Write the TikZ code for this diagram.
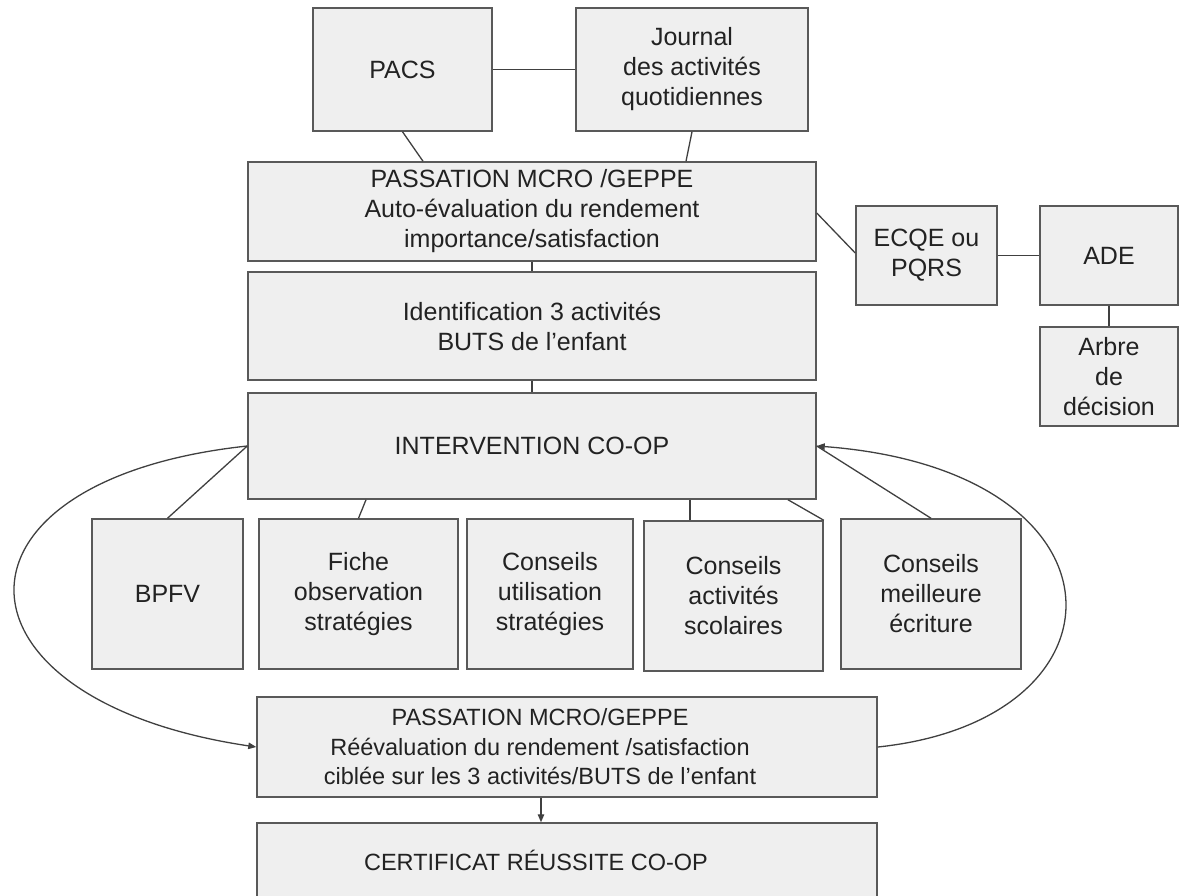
\documentclass[tikz,border=0pt]{standalone}
\usepackage{fontspec}
\setmainfont{Liberation Sans}
\usetikzlibrary{arrows.meta}
\definecolor{boxfill}{HTML}{EFEFEF}
\definecolor{boxline}{HTML}{595959}
\definecolor{txt}{HTML}{222222}
\definecolor{conn}{HTML}{404040}
\tikzset{
  box/.style={draw=boxline, line width=1.5pt, fill=boxfill, inner sep=0pt, align=center, text=txt,
    font=\fontsize{25}{30}\selectfont},
  lowbox/.style={draw=boxline, line width=1.5pt, fill=boxfill, inner sep=0pt},
  lowtext/.style={inner sep=0pt, align=center, text=txt, font=\fontsize{23.5}{29.5}\selectfont},
  link/.style={draw=conn, line width=1.3pt},
  arr/.style={link, -{Triangle[length=8pt,width=6.5pt]}}
}
\begin{document}
\begin{tikzpicture}[x=1pt,y=-1pt]
\useasboundingbox (0,0) rectangle (1180,895);
\node[box, minimum width=179pt, minimum height=123pt] (pacs) at (402.5,69.5) {PACS};
\node[box, minimum width=232pt, minimum height=123pt] (journal) at (692,69.5) {Journal\\des activités\\quotidiennes};
\node[box, minimum width=568pt, minimum height=99pt] (p1) at (532,211.5) {PASSATION MCRO /GEPPE\\Auto-évaluation du rendement\\importance/satisfaction};
\node[box, minimum width=568pt, minimum height=108pt] (ident) at (532,326) {Identification 3 activités\\BUTS de l’enfant};
\node[box, minimum width=568pt, minimum height=106pt] (interv) at (532,446) {INTERVENTION CO-OP};
\node[box, minimum width=141pt, minimum height=99pt] (ecqe) at (926.5,255.5) {ECQE ou\\PQRS};
\node[box, minimum width=138pt, minimum height=99pt] (ade) at (1109,255.5) {ADE};
\node[box, minimum width=138pt, minimum height=99pt] (arbre) at (1109,376.5) {Arbre\\de\\décision};
\node[box, minimum width=151pt, minimum height=150pt] (bpfv) at (167.5,594) {BPFV};
\node[box, minimum width=199pt, minimum height=150pt] (fiche) at (358.5,594) {Fiche\\observation\\stratégies};
\node[box, minimum width=166pt, minimum height=150pt] (cu) at (550,594) {Conseils\\utilisation\\stratégies};
\node[box, minimum width=179pt, minimum height=150pt] (ca) at (733.5,596) {Conseils\\activités\\scolaires};
\node[box, minimum width=180pt, minimum height=150pt] (cm) at (931,594) {Conseils\\meilleure\\écriture};
\node[lowbox, minimum width=620pt, minimum height=100pt] (p2) at (567,747) {};
\node[lowtext] (p2text) at ([xshift=-27pt]p2.center) {PASSATION MCRO/GEPPE\\Réévaluation du rendement /satisfaction\\ciblée sur les 3 activités/BUTS de l’enfant};
\node[lowbox, minimum width=620pt, minimum height=74pt] (cert) at (567,860) {};
\node[lowtext] (certtext) at ([xshift=-31pt]cert.center) {CERTIFICAT RÉUSSITE CO-OP};
% connectors
\draw[link] (pacs.east) -- (journal.west);
\draw[link] (pacs.south) -- ([xshift=-109pt]p1.north);
\draw[link] (journal.south) -- ([xshift=154pt]p1.north);
\draw[link] (p1.south) -- (ident.north);
\draw[link] (ident.south) -- (interv.north);
\draw[link] ([yshift=-1.5pt]p1.east) -- ([yshift=2.5pt]ecqe.west);
\draw[link] (ecqe.east) -- (ade.west);
\draw[link] (ade.south) -- (arbre.north);
\draw[link] (interv.west) -- (bpfv.north);
\draw[link] ([xshift=-166pt]interv.south) -- (fiche.north);
\draw[link] ([xshift=158pt]interv.south) -- ([xshift=-43.5pt]ca.north);
\draw[link] ([xshift=256pt]interv.south) -- (ca.north east);
\draw[link] (interv.east) -- (cm.north);
\draw[arr] ([xshift=-26pt]p2.south) -- ([xshift=-26pt]cert.north);
\draw[arr] (interv.west) .. controls (-68,480) and (-60,700) .. (p2.west);
\draw[arr] (p2.east) .. controls (1137,720) and (1137,470) .. (interv.east);
\end{tikzpicture}
\end{document}
